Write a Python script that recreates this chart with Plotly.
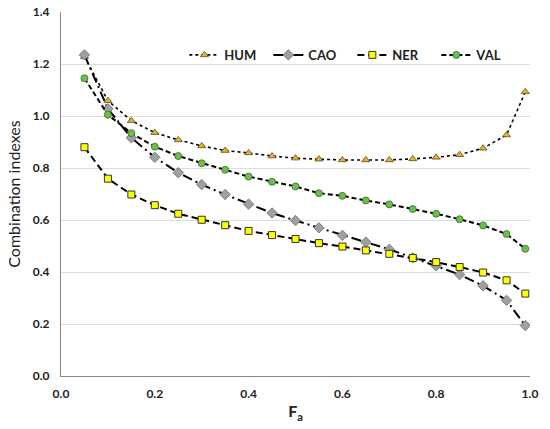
import plotly.graph_objects as go

fa = [0.05, 0.10, 0.15, 0.20, 0.25, 0.30, 0.35, 0.40, 0.45, 0.50,
      0.55, 0.60, 0.65, 0.70, 0.75, 0.80, 0.85, 0.90, 0.95, 0.99]

hum = [1.228, 1.059, 0.982, 0.936, 0.908, 0.885, 0.867, 0.858, 0.846, 0.838,
       0.834, 0.831, 0.831, 0.831, 0.835, 0.841, 0.851, 0.876, 0.927, 1.093]
cao = [1.235, 1.028, 0.916, 0.841, 0.782, 0.736, 0.698, 0.661, 0.627, 0.598,
       0.570, 0.541, 0.515, 0.487, 0.455, 0.424, 0.390, 0.347, 0.291, 0.194]
ner = [0.880, 0.759, 0.698, 0.657, 0.624, 0.601, 0.580, 0.558, 0.542, 0.527,
       0.511, 0.498, 0.483, 0.470, 0.454, 0.438, 0.419, 0.398, 0.368, 0.317]
val = [1.145, 1.005, 0.934, 0.882, 0.846, 0.818, 0.793, 0.767, 0.747, 0.729,
       0.703, 0.693, 0.675, 0.660, 0.642, 0.624, 0.603, 0.579, 0.546, 0.489]

y_ticks = [0.0, 0.2, 0.4, 0.6, 0.8, 1.0, 1.2, 1.4]
x_ticks = [0.0, 0.2, 0.4, 0.6, 0.8, 1.0]

FONT = "Lato"

fig = go.Figure()
fig.add_trace(go.Scatter(
    x=fa, y=hum, name="HUM", mode="lines+markers",
    line=dict(color="black", width=1.6, dash="dot"),
    marker=dict(symbol="triangle-up", size=7, color="#EDB02A",
                line=dict(color="#5a4a20", width=0.8))))
fig.add_trace(go.Scatter(
    x=fa, y=cao, name="CAO", mode="lines+markers",
    line=dict(color="black", width=2, dash="10px,4px,2px,4px"),
    marker=dict(symbol="diamond", size=8, color="#A0A0A0",
                line=dict(color="#6a6a6a", width=0.8))))
fig.add_trace(go.Scatter(
    x=fa, y=ner, name="NER", mode="lines+markers",
    line=dict(color="black", width=2, dash="7px,4px"),
    marker=dict(symbol="square", size=7, color="#FFFF00",
                line=dict(color="#333333", width=1))))
fig.add_trace(go.Scatter(
    x=fa, y=val, name="VAL", mode="lines+markers",
    line=dict(color="black", width=2, dash="5px,3px"),
    marker=dict(symbol="circle", size=7, color="#6CC04A",
                line=dict(color="#3a6a2a", width=0.8))))

fig.update_layout(
    width=550, height=429,
    margin=dict(l=61, r=20, t=12, b=53),
    paper_bgcolor="white", plot_bgcolor="white",
    font=dict(family=FONT, color="#222222"),
    showlegend=True,
    legend=dict(orientation="h", x=0.263, y=0.882, xanchor="left", yanchor="middle",
                bgcolor="rgba(0,0,0,0)", font=dict(family=FONT, size=13, color="#222222",
                                                  weight="bold"),
                entrywidth=39, itemwidth=30),
    xaxis=dict(range=[0, 1.0], tickvals=x_ticks, ticktext=[f"{v:.1f}" for v in x_ticks],
               showgrid=False, showline=True, linecolor="#888888", linewidth=1.2,
               ticks="", zeroline=False, automargin=False, ticklabelstandoff=6,
               tickfont=dict(family=FONT, size=12, color="#222222", weight="bold"),
               title=dict(text="F<sub>a</sub>", font=dict(family=FONT, size=16, color="#222222",
                                                        weight="bold"), standoff=6)),
    yaxis=dict(range=[0, 1.4], tickvals=y_ticks, ticktext=[f"{v:.1f}" for v in y_ticks],
               showgrid=True, gridcolor="#DDDDDD", gridwidth=1,
               showline=True, linecolor="#888888", linewidth=1.2,
               ticks="", zeroline=False, automargin=False, ticklabelstandoff=8,
               tickfont=dict(family=FONT, size=12, color="#222222", weight="bold"),
               title=dict(text="Combination indexes",
                          font=dict(family=FONT, size=16, color="#222222"), standoff=8)),
)

fig.write_html("out.html", config={"displayModeBar": False},
               post_script="document.body.style.margin='0px';")
